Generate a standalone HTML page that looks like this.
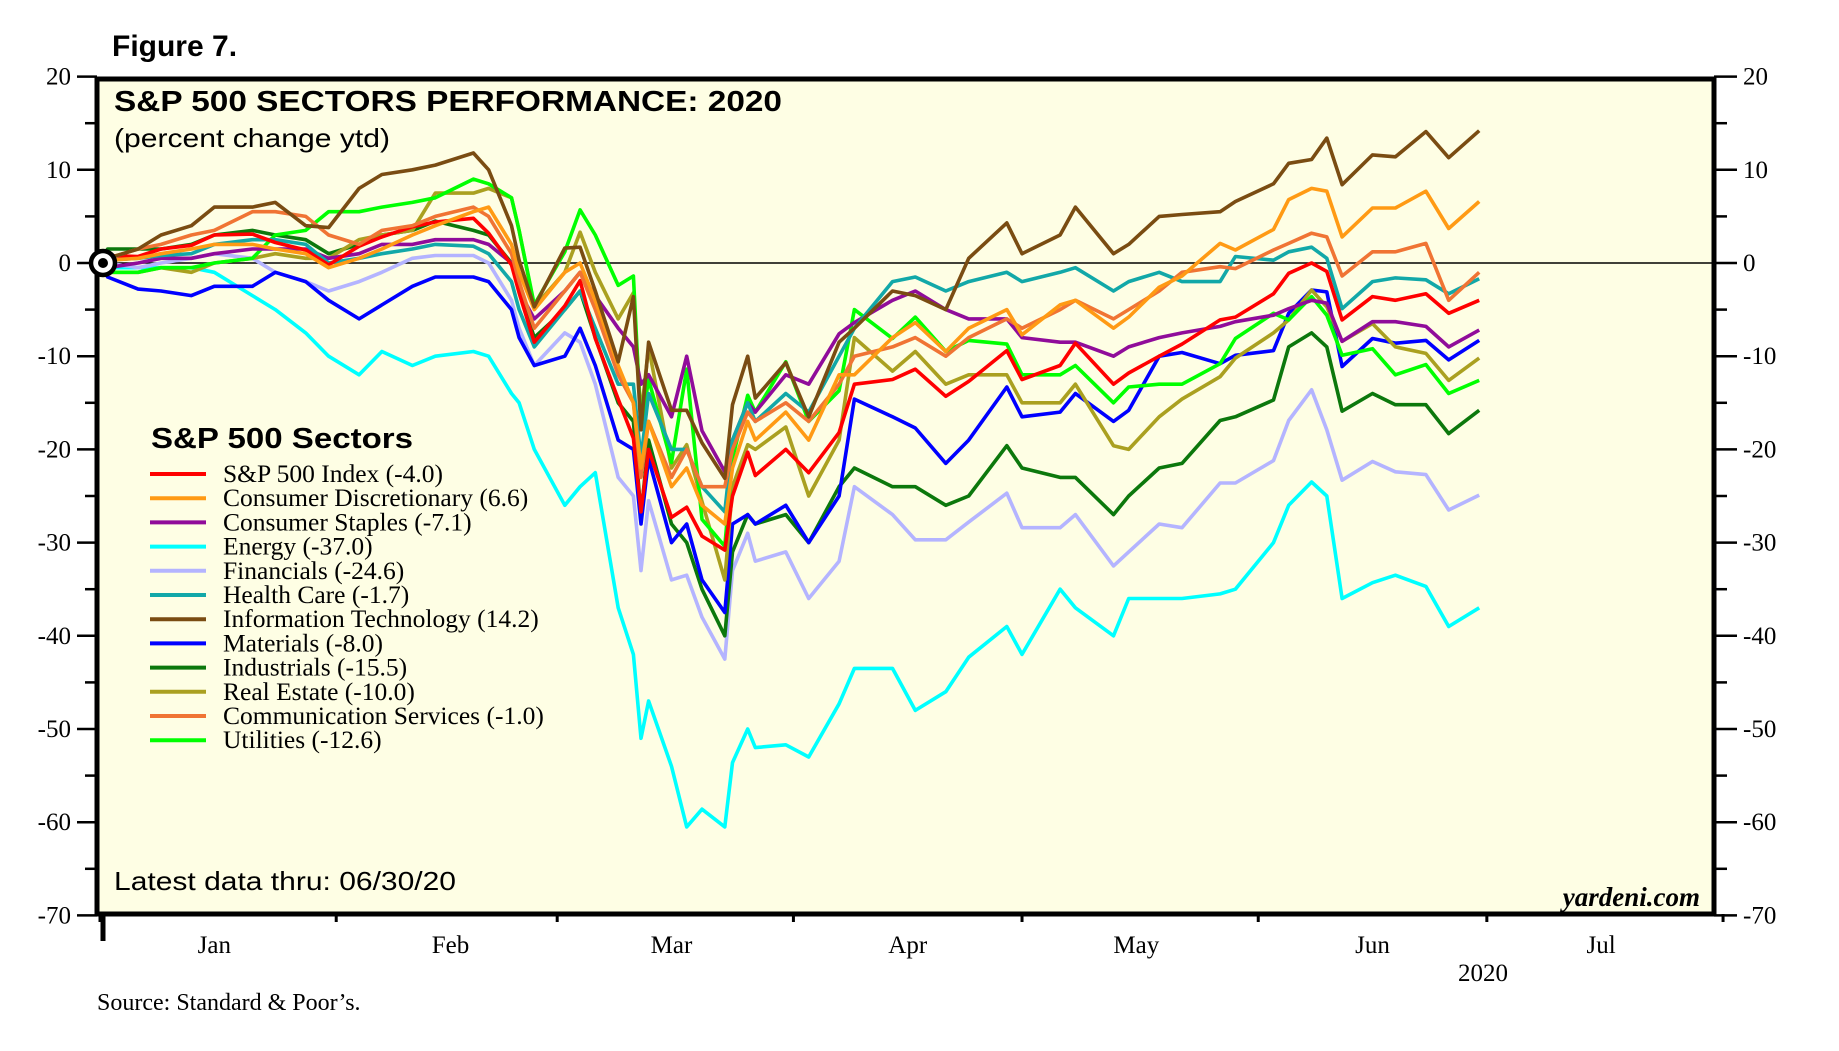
<!DOCTYPE html>
<html><head><meta charset="utf-8"><style>
html,body{margin:0;padding:0;background:#fff;}
svg{display:block;}
</style></head>
<body>
<svg id="chart" width="1839" height="1051" viewBox="0 0 1839 1051" xmlns="http://www.w3.org/2000/svg">
<text x="112" y="56" font-family="Liberation Sans, sans-serif" font-weight="bold" font-size="30">Figure 7.</text>
<rect x="97" y="79" width="1617" height="835" fill="#fefee4"/>
<g id="marks"></g>
<rect x="97" y="79" width="1617" height="835" fill="none" stroke="#000" stroke-width="5"/>
<text x="114" y="111" font-family="Liberation Sans, sans-serif" font-weight="bold" font-size="29" textLength="668" lengthAdjust="spacingAndGlyphs">S&amp;P 500 SECTORS PERFORMANCE: 2020</text>
<text x="114" y="147" font-family="Liberation Sans, sans-serif" font-size="26" textLength="276" lengthAdjust="spacingAndGlyphs">(percent change ytd)</text>
<text x="151" y="448" font-family="Liberation Sans, sans-serif" font-weight="bold" font-size="29" textLength="262" lengthAdjust="spacingAndGlyphs">S&amp;P 500 Sectors</text>
<g id="legend"></g>
<text x="114" y="890" font-family="Liberation Sans, sans-serif" font-size="26" textLength="342" lengthAdjust="spacingAndGlyphs">Latest data thru: 06/30/20</text>
<text x="1700" y="906" text-anchor="end" font-family="Liberation Serif, serif" font-weight="bold" font-style="italic" font-size="27">yardeni.com</text>
<text x="1483" y="981" text-anchor="middle" font-family="Liberation Serif, serif" font-size="25">2020</text>
<text x="97" y="1010" font-family="Liberation Serif, serif" font-size="24">Source: Standard &amp; Poor’s.</text>
</svg>
<script>
const days = [1,5,8,12,15,20,23,27,30,34,37,41,44,49,51,54,55,57,61,63,65,68,70,71,72,75,77,79,82,83,85,86,90,93,97,99,104,107,111,114,119,121,126,128,133,135,139,142,147,149,154,156,159,161,163,167,170,174,177,181];
const sectorNames = ["S&P 500 Index (-4.0)","Consumer Discretionary (6.6)","Consumer Staples (-7.1)","Energy (-37.0)","Financials (-24.6)","Health Care (-1.7)","Information Technology (14.2)","Materials (-8.0)","Industrials (-15.5)","Real Estate (-10.0)","Communication Services (-1.0)","Utilities (-12.6)"];
const sp500 = [0.8,0.7,1.5,1.9,3.0,3.1,2.2,1.4,-0.2,1.8,2.8,3.9,4.4,4.8,3.2,-0.2,-3.2,-8.5,-4.6,-1.9,-8.1,-14.6,-18.8,-26.7,-20.0,-27.3,-26.2,-29.3,-30.8,-25.0,-20.3,-22.8,-20.0,-22.5,-18.2,-13.0,-12.5,-11.4,-14.3,-12.7,-9.4,-12.5,-11.0,-8.6,-13.0,-11.8,-10.0,-8.7,-6.1,-5.8,-3.3,-1.1,0.0,-0.9,-6.1,-3.6,-4.0,-3.3,-5.4,-4.0];
const consDisc = [0.3,0.5,1,1.5,2,2,1.5,1,-0.5,0.5,1.5,3,4,5.5,6,2,-1,-5,-1,0,-4,-11,-15,-22,-17,-24,-22,-26,-28,-22,-17,-19,-16,-19,-12,-12,-8,-6.4,-9.5,-7,-5,-7.7,-4.5,-4,-7,-5.8,-2.6,-1.4,2.1,1.4,3.6,6.8,8,7.7,2.8,5.9,5.9,7.7,3.7,6.6];
const consStaples = [-0.5,0,0.5,0.5,1,1.5,1.5,1.5,0.5,1,2,2,2.5,2.5,2,0,-3,-6,-3,-1,-3.5,-7,-9,-13,-12,-16.5,-10,-18,-22.4,-19,-15,-16,-12,-13,-7.6,-6.4,-4,-3,-5,-6,-6,-8,-8.5,-8.5,-10,-9,-8,-7.5,-6.8,-6.3,-5.6,-4.9,-4,-4.3,-8.4,-6.3,-6.3,-6.8,-9,-7.2];
const energy = [-0.5,-0.5,-0.5,-0.5,-1,-3.5,-5,-7.5,-10,-12,-9.5,-11,-10,-9.5,-10,-14,-15,-20,-26,-24,-22.5,-37,-42,-51,-47,-54,-60.5,-58.6,-60.5,-53.6,-50,-52,-51.7,-53,-47.3,-43.5,-43.5,-48,-46,-42.3,-39,-42,-35,-37,-40,-36,-36,-36,-35.5,-35,-30,-26,-23.5,-25,-36,-34.3,-33.5,-34.7,-39,-37];
const financials = [0,-0.5,0,0.5,1,0.5,-1,-2,-3,-2,-1,0.5,0.8,0.8,0,-4,-7,-11,-7.5,-8.5,-13,-23,-25,-33,-25.5,-34,-33.5,-38,-42.5,-33,-29,-32,-31,-36,-32,-24,-27,-29.7,-29.7,-27.8,-24.7,-28.4,-28.4,-27,-32.5,-31,-28,-28.4,-23.6,-23.6,-21.2,-16.9,-13.6,-17.9,-23.3,-21.3,-22.4,-22.7,-26.5,-24.9];
const healthCare = [0.3,0.5,0.8,1,2,2.5,2.5,2,0,0.5,1,1.5,2,1.8,1,-2,-5,-9,-5,-3,-7,-13,-13,-21,-14,-20,-20,-24,-26.7,-19,-15,-17,-14,-16,-10,-7,-2,-1.5,-3,-2,-1,-2,-1,-0.5,-3,-2,-1,-2,-2,0.7,0.3,1.2,1.7,0.5,-4.9,-2,-1.6,-1.8,-3.3,-1.7];
const infoTech = [0.5,1.5,3,4,6,6,6.5,4,3.8,8,9.5,10,10.5,11.8,10,4,0.3,-4.7,1.6,1.7,-3,-10.6,-3.6,-17.9,-8.5,-15.8,-15.8,-19.3,-23.1,-15.2,-10,-14.5,-10.7,-16.5,-8.5,-7,-3,-3.5,-5,0.5,4.3,1,3,6,1,2,5,5.2,5.5,6.6,8.5,10.7,11.1,13.4,8.4,11.6,11.4,14.1,11.3,14.2];
const materials = [-1.5,-2.8,-3,-3.5,-2.5,-2.5,-1,-2,-4,-6,-4.5,-2.5,-1.5,-1.5,-2,-5,-8,-11,-10,-7,-11,-19,-20,-28,-21,-30,-28,-34,-37.5,-28,-27,-28,-26,-30,-25,-14.6,-16.5,-17.7,-21.5,-19,-13.3,-16.5,-16,-14,-17,-15.8,-10,-9.6,-10.8,-9.9,-9.4,-5.4,-2.9,-3.1,-11.1,-8.1,-8.6,-8.3,-10.4,-8.3];
const industrials = [1.5,1.5,1.5,2,3,3.5,3,2.5,1,2,3,3.5,4.5,3.5,3,0,-3,-8,-5,-3,-8,-15,-17,-27,-19,-28,-30,-35,-40,-31,-27,-28,-27,-30,-24,-22,-24,-24,-26,-25,-19.6,-22,-23,-23,-27,-25,-22,-21.5,-16.9,-16.5,-14.7,-9,-7.5,-9,-15.9,-14,-15.2,-15.2,-18.3,-15.8];
const realEstate = [-1,-1,-0.5,-1,0,0.5,1,0.5,0.5,2.5,3,3.5,7.5,7.5,8,7,3.5,-4.7,-1,3.3,-1,-6,-3.2,-16.5,-9,-22,-19.5,-25.6,-34,-24,-19.5,-20,-17.6,-25,-19,-8,-11.6,-9.5,-13,-12,-12,-15,-15,-13,-19.6,-20,-16.5,-14.6,-12.2,-10.2,-7.5,-6.1,-2.9,-4.7,-8.4,-6.5,-9,-9.7,-12.6,-10.2];
const commServ = [0.5,1.5,2,3,3.5,5.5,5.5,5,3,2,3.5,4,5,6,5,1,-2,-7,-3,-1,-5,-12,-15,-23,-17,-23,-20,-24,-24,-20,-16,-17,-15,-17,-13,-10,-9,-8,-10,-8,-6,-7,-5,-4,-6,-5,-3,-1,-0.4,-0.6,1.4,2.1,3.2,2.8,-1.4,1.2,1.2,2.1,-4,-1];
const utilities = [-1,-1,-0.5,-0.5,0,0.5,3,3.5,5.5,5.5,6,6.5,7,9,8.5,7,3.5,-4.5,1.2,5.7,3,-2.4,-1.4,-17.7,-12.5,-21.4,-11.4,-27.5,-30.4,-21,-14.2,-16,-10.6,-17,-13.7,-5,-8.1,-5.8,-9.5,-8.3,-8.7,-12,-12,-11,-15,-13.3,-13,-13,-10.8,-8.1,-5.4,-6.1,-3.6,-5.6,-9.9,-9.2,-12,-10.9,-14,-12.6];
const yTicks = [20,10,0,-10,-20,-30,-40,-50,-60,-70];
const monthNames = ["Jan","Feb","Mar","Apr","May","Jun","Jul"];
const monthStarts = [0,31,60,91,121,152,182,213];

const seriesList = [sp500,consDisc,consStaples,energy,financials,healthCare,infoTech,materials,industrials,realEstate,commServ,utilities];
const colors = ["#ff0000","#ff9a14","#900c9a","#00ffff","#b4b4ff","#12a8a8","#7a4c12","#0000ff","#0c780c","#aaa020","#f07434","#00ff00"];
const drawOrder = [3,4,8,7,9,11,2,5,0,10,1,6];

const NS = "http://www.w3.org/2000/svg";
const X0 = 100, PX_DAY = 7.62, Y_ZERO = 263, PX_UNIT = 9.32;
function xs(d){ return X0 + d * PX_DAY; }
function ys(v){ return Y_ZERO - v * PX_UNIT; }
function mk(tag, attrs, parent){
  const e = document.createElementNS(NS, tag);
  for (const k in attrs) e.setAttribute(k, attrs[k]);
  parent.appendChild(e);
  return e;
}
const svg = document.getElementById("chart");
const marks = document.getElementById("marks");
const legend = document.getElementById("legend");

const zl = mk("line", {x1:97, x2:1714, y1:ys(0), y2:ys(0), stroke:"#000", "stroke-width":1.6}, marks);



for (let v = 20; v >= -70; v -= 5) {
  const major = v % 10 === 0;
  const tl = mk("line", {x1: major ? 77 : 85, x2: 97, y1: ys(v), y2: ys(v), stroke:"#000", "stroke-width":2.5}, svg);
  
  
  const tr = mk("line", {x1: 1714, x2: major ? 1737 : 1727, y1: ys(v), y2: ys(v), stroke:"#000", "stroke-width":2.5}, svg);
  
  
}
yTicks.forEach(v => {
  const l = mk("text", {x:71, y:ys(v)+8, "text-anchor":"end", "font-family":"Liberation Serif, serif", "font-size":25}, svg);
  l.textContent = v;
  
  
  const r = mk("text", {x:1743, y:ys(v)+8, "font-family":"Liberation Serif, serif", "font-size":25}, svg);
  r.textContent = v;
  
  
});

monthStarts.forEach((d, i) => {
  const t = mk("line", {x1:xs(d), x2:xs(d), y1:914, y2:922, stroke:"#000", "stroke-width":3}, svg);
  
  
});
const bigTick = mk("line", {x1:xs(0)+3, x2:xs(0)+3, y1:914, y2:941, stroke:"#000", "stroke-width":5}, svg);


monthNames.forEach((m, i) => {
  const t = mk("text", {x:xs(monthStarts[i] + 15), y:953, "text-anchor":"middle", "font-family":"Liberation Serif, serif", "font-size":25}, svg);
  t.textContent = m;
  
  
});

drawOrder.forEach(i => {
  const vals = seriesList[i];
  let dstr = "M" + xs(0).toFixed(1) + "," + ys(0).toFixed(1);
  vals.forEach((v, j) => { dstr += " L" + xs(days[j]).toFixed(1) + "," + ys(v).toFixed(1); });
  const p = mk("path", {d:dstr, fill:"none", stroke:colors[i], "stroke-width":3.6, "stroke-linejoin":"round"}, marks);
  
  
});

const oc = mk("circle", {cx:xs(0)+3, cy:ys(0), r:12, fill:"#fff", stroke:"#000", "stroke-width":4.5}, svg);


const od = mk("circle", {cx:xs(0)+3, cy:ys(0), r:5, fill:"#000"}, svg);



sectorNames.forEach((n, i) => {
  const y = 474 + i * 24.2;
  const ln = mk("line", {x1:150, x2:206, y1:y, y2:y, stroke:colors[i], "stroke-width":4}, legend);
  
  
  const tx = mk("text", {x:223, y:y+8, "font-family":"Liberation Serif, serif", "font-size":25.5}, legend);
  tx.textContent = n;
  
  
});
</script>
</body></html>
